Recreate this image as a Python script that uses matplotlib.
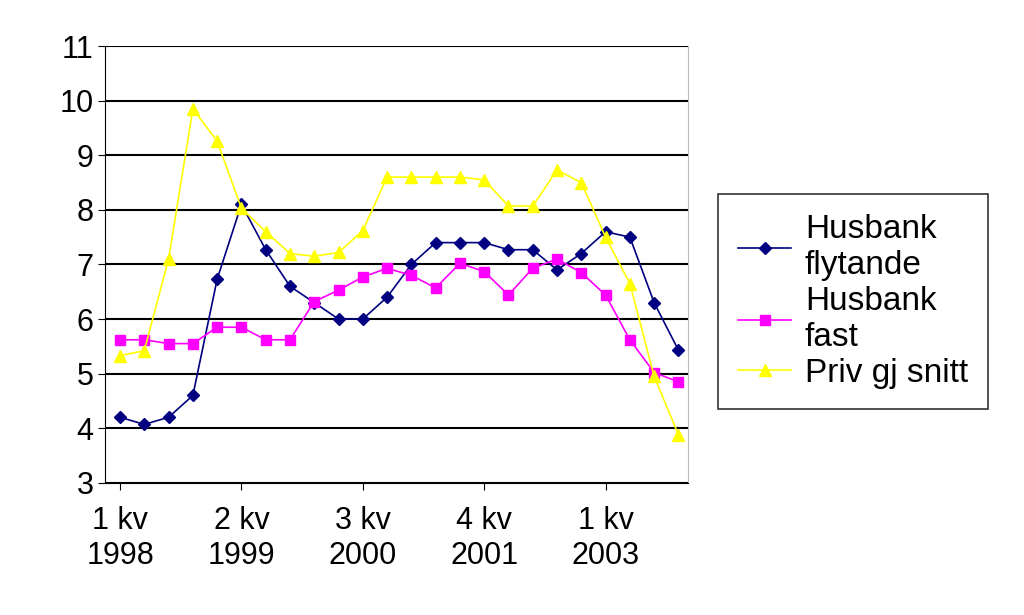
import numpy as np
import matplotlib
matplotlib.use("Agg")
import matplotlib.pyplot as plt

plt.rcParams["font.family"] = "Liberation Sans"

# 24 kvartal, 1998 - 2003
quarters = list(range(24))
tick_pos = [0, 5, 10, 15, 20]
tick_labels = ["1 kv\n1998", "2 kv\n1999", "3 kv\n2000", "4 kv\n2001", "1 kv\n2003"]

husbank_flyt = [4.2, 4.07, 4.2, 4.6, 6.73, 8.1, 7.27, 6.6, 6.3, 6.0, 6.0, 6.4,
                7.0, 7.4, 7.4, 7.4, 7.27, 7.27, 6.9, 7.2, 7.6, 7.5, 6.3, 5.43]
husbank_fast = [5.62, 5.62, 5.55, 5.55, 5.85, 5.85, 5.62, 5.62, 6.32, 6.53, 6.77, 6.93,
                6.8, 6.57, 7.02, 6.87, 6.44, 6.93, 7.1, 6.85, 6.44, 5.62, 5.02, 4.85]
priv_snitt = [5.33, 5.42, 7.1, 9.85, 9.26, 8.03, 7.6, 7.2, 7.15, 7.22, 7.62, 8.6,
              8.6, 8.6, 8.6, 8.55, 8.07, 8.07, 8.73, 8.5, 7.5, 6.65, 4.95, 3.88]

fig = plt.figure(figsize=(10.24, 6.15), dpi=100)
ax = fig.add_axes([0.103, 0.215, 0.569, 0.71])

ax.plot(quarters, husbank_flyt, color="#000080", marker="D", markersize=6, lw=1.2, label="Husbank\nflytande")
ax.plot(quarters, husbank_fast, color="#FF00FF", marker="s", markersize=7, lw=1.2, label="Husbank\nfast")
ax.plot(quarters, priv_snitt, color="#FFFF00", marker="^", markersize=8, lw=1.2, label="Priv gj snitt")

ax.set_xlim(-0.6, 23.4)
ax.set_ylim(3, 11)
ax.set_yticks(range(3, 12))
ax.yaxis.grid(True, color="black", lw=1.5)
ax.set_axisbelow(True)
ax.set_xticks(tick_pos)
ax.set_xticklabels(tick_labels)
ax.tick_params(axis="both", labelsize=22, direction="out", length=5)
ax.tick_params(axis="x", pad=12)
ax.spines["top"].set_visible(False)
ax.spines["right"].set_color("#bbbbbb")
for s in ["left", "bottom"]:
    ax.spines[s].set_color("black")

leg = fig.legend(loc="center left", bbox_to_anchor=(0.685, 0.51), fontsize=24,
                 frameon=True, fancybox=False, edgecolor="black", handlelength=1.6,
                 handletextpad=0.4, borderpad=0.6, labelspacing=0.15)
leg.get_frame().set_linewidth(1.2)

fig.savefig("out.png")
